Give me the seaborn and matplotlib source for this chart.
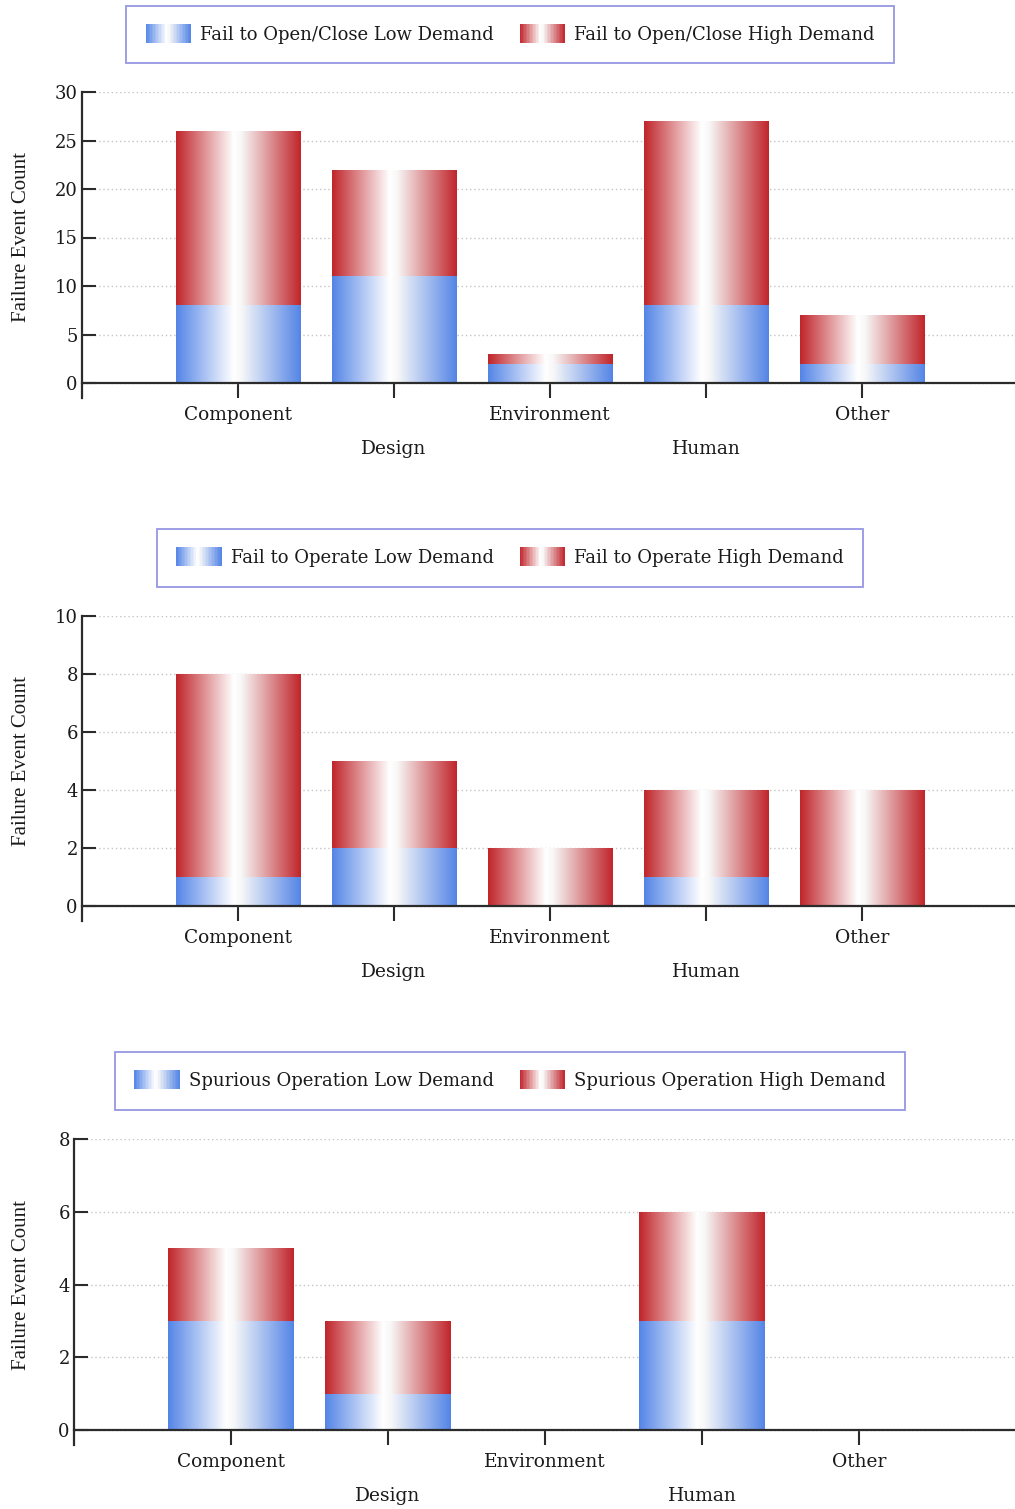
import numpy as np
import pandas as pd
import matplotlib
matplotlib.use("Agg")
import matplotlib.pyplot as plt
import matplotlib.transforms as mtransforms
from matplotlib.patches import Rectangle
from matplotlib.legend_handler import HandlerBase
from matplotlib.colors import LinearSegmentedColormap
import seaborn as sns

# ---------------- data ----------------
categories = ["Component", "Design", "Environment", "Human", "Other"]

open_close_low = [8, 11, 2, 8, 2]
open_close_high = [18, 11, 1, 19, 5]

operate_low = [1, 2, 0, 1, 0]
operate_high = [7, 3, 2, 3, 4]

spurious_low = [3, 1, 0, 3, 0]
spurious_high = [2, 2, 0, 3, 0]

legend_labels = [
    ("Fail to Open/Close Low Demand", "Fail to Open/Close High Demand"),
    ("Fail to Operate Low Demand", "Fail to Operate High Demand"),
    ("Spurious Operation Low Demand", "Spurious Operation High Demand"),
]
y_max = [30, 10, 8]
y_step = [5, 2, 2]
y_label = "Failure Event Count"

# ---------------- style ----------------
sns.set_theme(style="white")
plt.rcParams["font.family"] = ["DejaVu Serif"]

BLUE = "#5485e6"
RED = "#c0252b"
AXIS = "#2b2b2b"
TEXT = "#1a1a1a"
W, H, DPI = 1015, 1509, 100


def cyl_cmap(edge):
    # dark edges fading to white just left of the bar centre
    return LinearSegmentedColormap.from_list(
        "cyl", [(0.0, edge), (0.46, "#ffffff"), (0.52, "#f8f8f8"), (1.0, edge)]
    )


CMAPS = {"low": cyl_cmap(BLUE), "high": cyl_cmap(RED)}
GRAD = np.linspace(0, 1, 256).reshape(1, -1)


class GradientHandler(HandlerBase):
    def __init__(self, cmap):
        super().__init__()
        self.cmap = cmap

    def create_artists(self, legend, orig_handle, xdescent, ydescent,
                       width, height, fontsize, trans):
        n = 30
        arts = []
        for i in range(n):
            c = self.cmap((i + 0.5) / n)
            r = Rectangle((-xdescent + width * i / n, -ydescent - 2),
                          width / n + 0.3, height + 4, facecolor=c,
                          edgecolor="none", transform=trans)
            arts.append(r)
        return arts


fig = plt.figure(figsize=(W / DPI, H / DPI), dpi=DPI)

# panel layout in pixels: left spine x, top (y max) px, zero px, unit spacing
panels = [
    dict(left=82, top=92, zero=383, unit=156, legend_y=34.5),
    dict(left=82, top=616, zero=906, unit=156, legend_y=558),
    dict(left=74, top=1139, zero=1430, unit=157, legend_y=1081),
]
series = [
    (open_close_low, open_close_high),
    (operate_low, operate_high),
    (spurious_low, spurious_high),
]
tick_out = 15  # px the spine/ticks extend below the zero line

for k, (p, (low, high)) in enumerate(zip(panels, series)):
    bottom_px = p["zero"] + tick_out
    ax = fig.add_axes([p["left"] / W, 1 - bottom_px / H,
                       6 * p["unit"] / W, (bottom_px - p["top"]) / H])
    total = [a + b for a, b in zip(low, high)]
    df = pd.DataFrame({"cat": categories, "low": low, "total": total})

    sns.barplot(data=df, x="cat", y="total", color=RED, saturation=1,
                width=0.8, ax=ax, order=categories)
    sns.barplot(data=df, x="cat", y="low", color=BLUE, saturation=1,
                width=0.8, ax=ax, order=categories)

    n = len(categories)
    for j, patch in enumerate(list(ax.patches)):
        kind = "high" if j < n else "low"
        x0, y0 = patch.get_x(), patch.get_y()
        w, h = patch.get_width(), patch.get_height()
        if h <= 0:
            patch.set_visible(False)
            continue
        im = ax.imshow(GRAD, cmap=CMAPS[kind], aspect="auto",
                       extent=(x0, x0 + w, y0, y0 + h), origin="lower",
                       interpolation="bilinear", zorder=2 + (j >= n))
        im.set_clip_path(patch)
        patch.set_facecolor("none")
        patch.set_edgecolor("none")

    scale = (p["zero"] - p["top"]) / y_max[k]
    ax.set_xlim(-1, 5)
    ax.set_ylim(-tick_out / scale, y_max[k])
    ax.set_yticks(np.arange(0, y_max[k] + 1, y_step[k]))
    ax.set_xticks(range(n))
    ax.set_xticklabels(categories)
    ax.set_xlabel("")
    ax.set_ylabel("")

    ax.yaxis.grid(True, linestyle=(0, (1, 2)), color="#c4c4c4", linewidth=1)
    ax.xaxis.grid(False)
    ax.set_axisbelow(True)

    for s in ("top", "right"):
        ax.spines[s].set_visible(False)
    ax.spines["bottom"].set_position(("data", 0))
    for s in ("left", "bottom"):
        ax.spines[s].set_color(AXIS)
        ax.spines[s].set_linewidth(1.6)
        ax.spines[s].set_zorder(5)

    ax.tick_params(axis="y", direction="in", length=10, width=1.5,
                   color=AXIS, labelsize=13, pad=3, left=True,
                   labelcolor=TEXT)
    ax.tick_params(axis="x", direction="out", length=tick_out * 0.72,
                   width=1.5, color=AXIS, labelsize=13.4, pad=6, bottom=True,
                   labelcolor=TEXT)

    # alternate labels drop to a second row
    for i, lab in enumerate(ax.get_xticklabels()):
        if i % 2 == 1:
            lab.set_transform(lab.get_transform() + mtransforms.ScaledTranslation(
                0, -34 / DPI, fig.dpi_scale_trans))

    mid = (p["top"] + p["zero"]) / 2
    fig.text(22 / W, 1 - mid / H, y_label, rotation=90, ha="center",
             va="center", fontsize=15, family="Liberation Serif",
             color=TEXT)

    h_low = Rectangle((0, 0), 1, 1, facecolor=BLUE)
    h_high = Rectangle((0, 0), 1, 1, facecolor=RED)
    leg = ax.legend(
        [h_low, h_high], list(legend_labels[k]), ncol=2, loc="center",
        bbox_to_anchor=(510 / W, 1 - p["legend_y"] / H),
        bbox_transform=fig.transFigure, frameon=True, fancybox=False,
        fontsize=13, handlelength=2.5, handleheight=0.8, handletextpad=0.5,
        columnspacing=1.45, borderpad=1.1,
        handler_map={h_low: GradientHandler(CMAPS["low"]),
                     h_high: GradientHandler(CMAPS["high"])},
    )
    fr = leg.get_frame()
    fr.set_edgecolor("#7c7cdc")
    fr.set_linewidth(1.3)
    fr.set_facecolor("white")
    for t in leg.get_texts():
        t.set_color(TEXT)

fig.savefig("out.png", dpi=DPI, facecolor="white")
